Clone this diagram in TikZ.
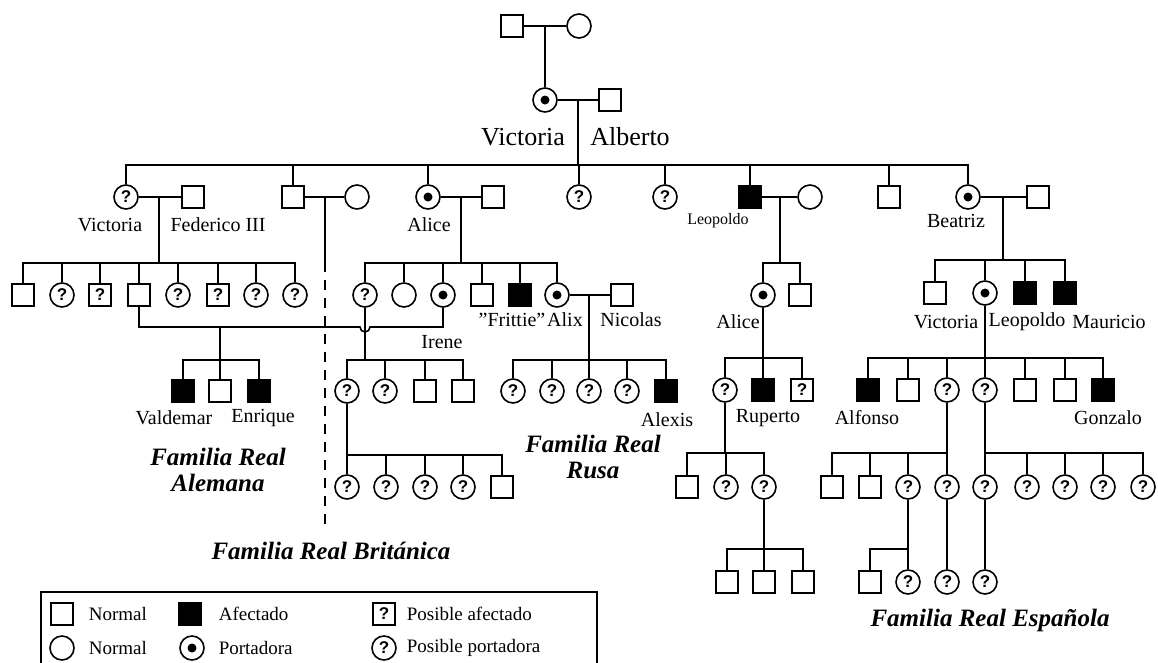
\documentclass[tikz,border=0pt]{standalone}
\usepackage{fontspec}
\setmainfont{Liberation Serif}
\newfontfamily\qfont{Liberation Sans}
\usetikzlibrary{calc}

\tikzset{
  male/.style={draw, rectangle, minimum size=22pt, inner sep=0pt},
  female/.style={draw, circle, minimum size=24pt, inner sep=0pt},
  affected/.style={male, fill=black},
  carrier/.style={female, path picture={\fill (path picture bounding box.center) circle (4.5pt);}},
  maybeaff/.style={male, font=\qfont\bfseries\fontsize{17}{17}\selectfont},
  maybecar/.style={female, font=\qfont\bfseries\fontsize{17}{17}\selectfont},
  who/.style={inner sep=0pt, font=\fontsize{20}{20}\selectfont},
  bigwho/.style={inner sep=0pt, font=\fontsize{26}{26}\selectfont},
  smallwho/.style={inner sep=0pt, font=\fontsize{16}{16}\selectfont},
  house/.style={inner sep=0pt, align=center, font=\bfseries\itshape\fontsize{25}{26}\selectfont},
  keytext/.style={inner sep=0pt, anchor=west, font=\fontsize{19}{19}\selectfont},
}

\begin{document}
\begin{tikzpicture}[x=1pt, y=-1pt, line width=1.6pt]
\useasboundingbox (0,0) rectangle (1158,662);

% ---------- generation 0 and 1 ----------
\node[male] (g0m) at (512,26) {};
\node[female] (g0f) at (579,26) {};
\draw (g0m) -- (g0f);
\coordinate (g0x) at (545,26);
\node[carrier] (vic) at (545,100) {};
\node[male] (alb) at (610,100) {};
\draw (g0x) -- (vic.north);
\draw (vic) -- (alb);
\coordinate (vax) at (578,100);
\node[bigwho] at (523,137) {Victoria};
\node[bigwho] at (630,137) {Alberto};
\coordinate (j1) at (578,165);
\draw (vax) -- (j1);

% ---------- generation 2 ----------
\node[maybecar] (c1) at (126,197) {?};
\node[male]     (c2) at (293,197) {};
\node[carrier]  (c3) at (428,197) {};
\node[maybecar] (c4) at (579,197) {?};
\node[maybecar] (c5) at (665,197) {?};
\node[affected] (c6) at (750,197) {};
\node[male]     (c7) at (889,197) {};
\node[carrier]  (c8) at (968,197) {};
\foreach \c in {c1,c2,c3,c4,c5,c6,c7,c8} \draw (\c.north) |- (j1);

\node[male]   (fed)  at (193,197) {};
\node[female] (c2w)  at (357,197) {};
\node[male]   (c3h)  at (493,197) {};
\node[female] (c6w)  at (810,197) {};
\node[male]   (c8h)  at (1038,197) {};
\draw (c1) -- (fed);
\draw (c2) -- (c2w);
\draw (c3) -- (c3h);
\draw (c6) -- (c6w);
\draw (c8) -- (c8h);

\node[who] at (110,225) {Victoria};
\node[who] at (218,225) {Federico III};
\node[who] at (429,225) {Alice};
\node[smallwho] at (718,221) {Leopoldo};
\node[who] at (956,221) {Beatriz};

% ---------- Victoria and Federico III: German line ----------
\coordinate (vfx) at (159,197);
\coordinate (j2) at (159,263);
\draw (vfx) -- (j2);
\node[male]     (f1) at (23,295) {};
\node[maybecar] (f2) at (62,295) {?};
\node[maybeaff] (f3) at (100,295) {?};
\node[male]     (f4) at (139,295) {};
\node[maybecar] (f5) at (178,295) {?};
\node[maybeaff] (f6) at (218,295) {?};
\node[maybecar] (f7) at (256,295) {?};
\node[maybecar] (f8) at (295,295) {?};
\foreach \c in {f1,f2,f3,f4,f5,f6,f7,f8} \draw (\c.north) |- (j2);

% ---------- dashed descent of the second son ----------
\coordinate (c2x) at (325,197);
\coordinate (dA) at (325,262);
\coordinate (dB) at (325,530);
\draw (c2x) -- (dA);
\draw[dash pattern=on 10pt off 8pt] (dA) -- (dB);

% ---------- Alice ----------
\coordinate (c3x) at (461,197);
\coordinate (j3) at (461,263);
\draw (c3x) -- (j3);
\node[maybecar] (a1) at (365,295) {?};
\node[female]   (a2) at (404,295) {};
\node[carrier]  (a3) at (443,295) {};
\node[male]     (a4) at (482,295) {};
\node[affected] (a5) at (520,295) {};
\node[carrier]  (a6) at (557,295) {};
\foreach \c in {a1,a2,a3,a4,a5,a6} \draw (\c.north) |- (j3);
\node[male] (nic) at (622,295) {};
\draw (a6) -- (nic);
\node[who] at (512,320) {"Frittie"};
\node[who] at (565,320) {Alix};
\node[who] at (631,320) {Nicolas};
\node[who] at (442,342) {Irene};

% Henry and Irene, the line hopping over the descent of a1
\coordinate (hop) at (360,327);
\draw (f4.south) |- (hop) arc[start angle=180, end angle=360, radius=5pt] -| (a3.south);
\coordinate (hix) at (220,327);
\coordinate (j6) at (220,360);
\draw (hix) -- (j6);
\node[affected] (h1) at (183,391) {};
\node[male]     (h2) at (220,391) {};
\node[affected] (h3) at (259,391) {};
\foreach \c in {h1,h2,h3} \draw (\c.north) |- (j6);
\node[who] at (174,418) {Valdemar};
\node[who] at (263,418) {Enrique};
\node[house] at (218,470) {Familia Real\\Alemana};

% British line
\coordinate (j7) at (365,360);
\draw (a1.south) -- (j7);
\node[maybecar] (br1) at (347,391) {?};
\node[maybecar] (br2) at (385,391) {?};
\node[male]     (br3) at (425,391) {};
\node[male]     (br4) at (463,391) {};
\foreach \c in {br1,br2,br3,br4} \draw (\c.north) |- (j7);
\coordinate (j8) at (347,455);
\draw (br1.south) -- (j8);
\node[maybecar] (bb1) at (347,487) {?};
\node[maybecar] (bb2) at (386,487) {?};
\node[maybecar] (bb3) at (425,487) {?};
\node[maybecar] (bb4) at (463,487) {?};
\node[male]     (bb5) at (502,487) {};
\foreach \c in {bb1,bb2,bb3,bb4,bb5} \draw (\c.north) |- (j8);
\node[house] at (331,551) {Familia Real Británica};

% Russian line
\coordinate (anx) at (589,295);
\coordinate (j9) at (589,360);
\draw (anx) -- (j9);
\node[maybecar] (r1) at (513,391) {?};
\node[maybecar] (r2) at (552,391) {?};
\node[maybecar] (r3) at (589,391) {?};
\node[maybecar] (r4) at (627,391) {?};
\node[affected] (r5) at (666,391) {};
\foreach \c in {r1,r2,r3,r4,r5} \draw (\c.north) |- (j9);
\node[who] at (667,420) {Alexis};
\node[house] at (593,457) {Familia Real\\Rusa};

% ---------- Leopoldo ----------
\coordinate (c6x) at (780,197);
\coordinate (j4) at (780,263);
\draw (c6x) -- (j4);
\node[carrier] (l1) at (763,295) {};
\node[male]    (l2) at (800,295) {};
\foreach \c in {l1,l2} \draw (\c.north) |- (j4);
\node[who] at (738,322) {Alice};
\coordinate (j10) at (763,358);
\draw (l1.south) -- (j10);
\node[maybecar] (al1) at (725,390) {?};
\node[affected] (al2) at (763,390) {};
\node[maybeaff] (al3) at (802,390) {?};
\foreach \c in {al1,al2,al3} \draw (\c.north) |- (j10);
\node[who] at (768,418) {Ruperto};
\coordinate (j11) at (725,453);
\draw (al1.south) -- (j11);
\node[male]     (am1) at (687,487) {};
\node[maybecar] (am2) at (726,487) {?};
\node[maybecar] (am3) at (764,487) {?};
\foreach \c in {am1,am2,am3} \draw (\c.north) |- (j11);
\coordinate (j12) at (764,549);
\draw (am3.south) -- (j12);
\node[male] (an1) at (727,582) {};
\node[male] (an2) at (764,582) {};
\node[male] (an3) at (803,582) {};
\foreach \c in {an1,an2,an3} \draw (\c.north) |- (j12);

% ---------- Beatriz: Spanish line ----------
\coordinate (c8x) at (1003,197);
\coordinate (j5) at (1003,260);
\draw (c8x) -- (j5);
\node[male]     (b1) at (935,293) {};
\node[carrier]  (b2) at (985,293) {};
\node[affected] (b3) at (1025,293) {};
\node[affected] (b4) at (1065,293) {};
\foreach \c in {b1,b2,b3,b4} \draw (\c.north) |- (j5);
\node[who] at (946,322) {Victoria};
\node[who] at (1027,322) {Leopoldo};
\node[who] at (1109,322) {Mauricio};

\coordinate (j13) at (985,358);
\draw (b2.south) -- (j13);
\node[affected] (s1) at (868,390) {};
\node[male]     (s2) at (908,390) {};
\node[maybecar] (s3) at (947,390) {?};
\node[maybecar] (s4) at (985,390) {?};
\node[male]     (s5) at (1025,390) {};
\node[male]     (s6) at (1065,390) {};
\node[affected] (s7) at (1103,390) {};
\foreach \c in {s1,s2,s3,s4,s5,s6,s7} \draw (\c.north) |- (j13);
\node[who] at (867,418) {Alfonso};
\node[who] at (1108,418) {Gonzalo};

\coordinate (j14) at (947,453);
\draw (s3.south) -- (j14);
\node[male]     (t1) at (832,487) {};
\node[male]     (t2) at (870,487) {};
\node[maybecar] (t3) at (908,487) {?};
\node[maybecar] (t4) at (947,487) {?};
\foreach \c in {t1,t2,t3,t4} \draw (\c.north) |- (j14);

\coordinate (j15) at (985,453);
\draw (s4.south) -- (j15);
\node[maybecar] (u1) at (985,487) {?};
\node[maybecar] (u2) at (1027,487) {?};
\node[maybecar] (u3) at (1065,487) {?};
\node[maybecar] (u4) at (1103,487) {?};
\node[maybecar] (u5) at (1143,487) {?};
\foreach \c in {u1,u2,u3,u4,u5} \draw (\c.north) |- (j15);

\coordinate (j16) at (908,549);
\draw (t3.south) -- (j16);
\node[male]     (v1) at (870,582) {};
\node[maybecar] (v2) at (908,582) {?};
\foreach \c in {v1,v2} \draw (\c.north) |- (j16);
\node[maybecar] (v3) at (947,582) {?};
\node[maybecar] (v4) at (985,582) {?};
\draw (t4.south) -- (v3.north);
\draw (u1.south) -- (v4.north);
\node[house] at (990,620) {Familia Real Española};

% ---------- key ----------
\draw[line width=1.4pt] (41,666) -- (41,592) -- (597,592) -- (597,666);
\node[male]     (k1) at (62,614) {};
\node[keytext] at (88,614) {Normal};
\node[affected] (k2) at (190,614) {};
\node[keytext] at (218,614) {Afectado};
\node[maybeaff] (k3) at (384,614) {?};
\node[keytext] at (406,614) {Posible afectado};
\node[female]   (k4) at (62,648) {};
\node[keytext] at (88,648) {Normal};
\node[carrier]  (k5) at (192,648) {};
\node[keytext] at (218,648) {Portadora};
\node[maybecar] (k6) at (384,648) {?};
\node[keytext] at (406,648) {Posible portadora};
\end{tikzpicture}
\end{document}
